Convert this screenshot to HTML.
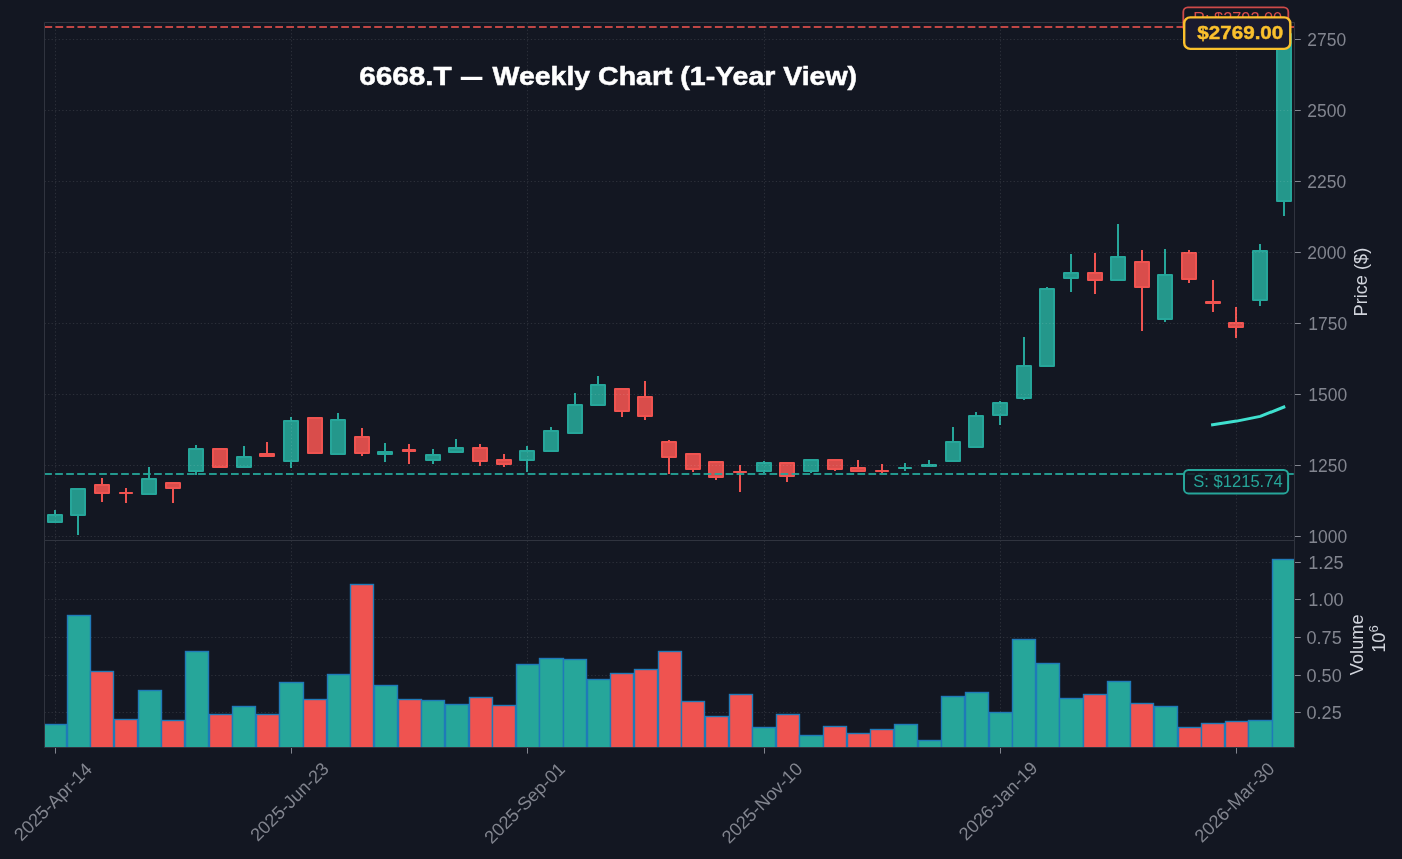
<!DOCTYPE html>
<html><head><meta charset="utf-8"><title>6668.T Weekly Chart</title>
<style>html,body{margin:0;padding:0;background:#131722;width:1402px;height:859px;overflow:hidden}svg{display:block;will-change:transform;font-family:"Liberation Sans",sans-serif}</style>
</head><body>
<svg width="1402" height="859" viewBox="0 0 1402 859">
<rect x="0" y="0" width="1402" height="859" fill="#131722"/>
<defs><clipPath id="cp"><rect x="44.5" y="22.5" width="1250.0" height="518.0"/></clipPath><clipPath id="cv"><rect x="44.5" y="540.5" width="1250.0" height="207.0"/></clipPath></defs>
<g clip-path="url(#cp)">
<path d="M55 510V522" stroke="#26a69a" stroke-width="2"/><path d="M48.0 515.0H62.0V522.0H48.0Z" fill="#24978b" stroke="#26a69a" stroke-width="2" stroke-linejoin="round"/>
<path d="M78 488V535" stroke="#26a69a" stroke-width="2"/><path d="M71.0 489.0H85.0V515.0H71.0Z" fill="#24978b" stroke="#26a69a" stroke-width="2" stroke-linejoin="round"/>
<path d="M102 478V502" stroke="#ef5350" stroke-width="2"/><path d="M95.0 485.0H109.0V493.0H95.0Z" fill="#d94d4b" stroke="#ef5350" stroke-width="2" stroke-linejoin="round"/>
<path d="M126 488V503" stroke="#ef5350" stroke-width="2"/><path d="M119.9 493.0H132.1V493.0H119.9Z" fill="#d94d4b" stroke="#ef5350" stroke-width="2" stroke-linejoin="round"/>
<path d="M149 467V495" stroke="#26a69a" stroke-width="2"/><path d="M142.0 479.0H156.0V494.0H142.0Z" fill="#24978b" stroke="#26a69a" stroke-width="2" stroke-linejoin="round"/>
<path d="M173 482V503" stroke="#ef5350" stroke-width="2"/><path d="M166.0 483.0H180.0V488.0H166.0Z" fill="#d94d4b" stroke="#ef5350" stroke-width="2" stroke-linejoin="round"/>
<path d="M196 445V475" stroke="#26a69a" stroke-width="2"/><path d="M189.0 449.0H203.0V471.0H189.0Z" fill="#24978b" stroke="#26a69a" stroke-width="2" stroke-linejoin="round"/>
<path d="M220 448V468" stroke="#ef5350" stroke-width="2"/><path d="M213.0 449.0H227.0V467.0H213.0Z" fill="#d94d4b" stroke="#ef5350" stroke-width="2" stroke-linejoin="round"/>
<path d="M244 446V468" stroke="#26a69a" stroke-width="2"/><path d="M237.0 457.0H251.0V467.0H237.0Z" fill="#24978b" stroke="#26a69a" stroke-width="2" stroke-linejoin="round"/>
<path d="M267 442V457" stroke="#ef5350" stroke-width="2"/><path d="M260.0 454.0H274.0V456.0H260.0Z" fill="#d94d4b" stroke="#ef5350" stroke-width="2" stroke-linejoin="round"/>
<path d="M291 417V468" stroke="#26a69a" stroke-width="2"/><path d="M284.0 421.0H298.0V461.0H284.0Z" fill="#24978b" stroke="#26a69a" stroke-width="2" stroke-linejoin="round"/>
<path d="M315 417V454" stroke="#ef5350" stroke-width="2"/><path d="M308.0 418.0H322.0V453.0H308.0Z" fill="#d94d4b" stroke="#ef5350" stroke-width="2" stroke-linejoin="round"/>
<path d="M338 413V455" stroke="#26a69a" stroke-width="2"/><path d="M331.0 420.0H345.0V454.0H331.0Z" fill="#24978b" stroke="#26a69a" stroke-width="2" stroke-linejoin="round"/>
<path d="M362 428V456" stroke="#ef5350" stroke-width="2"/><path d="M355.0 437.0H369.0V453.0H355.0Z" fill="#d94d4b" stroke="#ef5350" stroke-width="2" stroke-linejoin="round"/>
<path d="M385 443V462" stroke="#26a69a" stroke-width="2"/><path d="M378.0 452.0H392.0V454.0H378.0Z" fill="#24978b" stroke="#26a69a" stroke-width="2" stroke-linejoin="round"/>
<path d="M409 444V464" stroke="#ef5350" stroke-width="2"/><path d="M402.9 450.0H415.1V451.0H402.9Z" fill="#d94d4b" stroke="#ef5350" stroke-width="2" stroke-linejoin="round"/>
<path d="M433 449V464" stroke="#26a69a" stroke-width="2"/><path d="M426.0 455.0H440.0V460.0H426.0Z" fill="#24978b" stroke="#26a69a" stroke-width="2" stroke-linejoin="round"/>
<path d="M456 439V453" stroke="#26a69a" stroke-width="2"/><path d="M449.0 448.0H463.0V452.0H449.0Z" fill="#24978b" stroke="#26a69a" stroke-width="2" stroke-linejoin="round"/>
<path d="M480 444V466" stroke="#ef5350" stroke-width="2"/><path d="M473.0 448.0H487.0V461.0H473.0Z" fill="#d94d4b" stroke="#ef5350" stroke-width="2" stroke-linejoin="round"/>
<path d="M504 454V467" stroke="#ef5350" stroke-width="2"/><path d="M497.0 460.0H511.0V464.0H497.0Z" fill="#d94d4b" stroke="#ef5350" stroke-width="2" stroke-linejoin="round"/>
<path d="M527 446V472" stroke="#26a69a" stroke-width="2"/><path d="M520.0 451.0H534.0V460.0H520.0Z" fill="#24978b" stroke="#26a69a" stroke-width="2" stroke-linejoin="round"/>
<path d="M551 427V452" stroke="#26a69a" stroke-width="2"/><path d="M544.0 431.0H558.0V451.0H544.0Z" fill="#24978b" stroke="#26a69a" stroke-width="2" stroke-linejoin="round"/>
<path d="M575 393V434" stroke="#26a69a" stroke-width="2"/><path d="M568.0 405.0H582.0V433.0H568.0Z" fill="#24978b" stroke="#26a69a" stroke-width="2" stroke-linejoin="round"/>
<path d="M598 376V406" stroke="#26a69a" stroke-width="2"/><path d="M591.0 385.0H605.0V405.0H591.0Z" fill="#24978b" stroke="#26a69a" stroke-width="2" stroke-linejoin="round"/>
<path d="M622 388V417" stroke="#ef5350" stroke-width="2"/><path d="M615.0 389.0H629.0V411.0H615.0Z" fill="#d94d4b" stroke="#ef5350" stroke-width="2" stroke-linejoin="round"/>
<path d="M645 381V420" stroke="#ef5350" stroke-width="2"/><path d="M638.0 397.0H652.0V416.0H638.0Z" fill="#d94d4b" stroke="#ef5350" stroke-width="2" stroke-linejoin="round"/>
<path d="M669 440V474" stroke="#ef5350" stroke-width="2"/><path d="M662.0 442.0H676.0V457.0H662.0Z" fill="#d94d4b" stroke="#ef5350" stroke-width="2" stroke-linejoin="round"/>
<path d="M693 453V472" stroke="#ef5350" stroke-width="2"/><path d="M686.0 454.0H700.0V469.0H686.0Z" fill="#d94d4b" stroke="#ef5350" stroke-width="2" stroke-linejoin="round"/>
<path d="M716 461V480" stroke="#ef5350" stroke-width="2"/><path d="M709.0 462.0H723.0V477.0H709.0Z" fill="#d94d4b" stroke="#ef5350" stroke-width="2" stroke-linejoin="round"/>
<path d="M740 465V492" stroke="#ef5350" stroke-width="2"/><path d="M733.9 472.0H746.1V472.0H733.9Z" fill="#d94d4b" stroke="#ef5350" stroke-width="2" stroke-linejoin="round"/>
<path d="M764 461V473" stroke="#26a69a" stroke-width="2"/><path d="M757.0 463.0H771.0V471.0H757.0Z" fill="#24978b" stroke="#26a69a" stroke-width="2" stroke-linejoin="round"/>
<path d="M787 462V482" stroke="#ef5350" stroke-width="2"/><path d="M780.0 463.0H794.0V476.0H780.0Z" fill="#d94d4b" stroke="#ef5350" stroke-width="2" stroke-linejoin="round"/>
<path d="M811 459V473" stroke="#26a69a" stroke-width="2"/><path d="M804.0 460.0H818.0V471.0H804.0Z" fill="#24978b" stroke="#26a69a" stroke-width="2" stroke-linejoin="round"/>
<path d="M835 459V471" stroke="#ef5350" stroke-width="2"/><path d="M828.0 460.0H842.0V469.0H828.0Z" fill="#d94d4b" stroke="#ef5350" stroke-width="2" stroke-linejoin="round"/>
<path d="M858 460V472" stroke="#ef5350" stroke-width="2"/><path d="M851.0 468.0H865.0V471.0H851.0Z" fill="#d94d4b" stroke="#ef5350" stroke-width="2" stroke-linejoin="round"/>
<path d="M882 464V473" stroke="#ef5350" stroke-width="2"/><path d="M875.9 471.0H888.1V471.0H875.9Z" fill="#d94d4b" stroke="#ef5350" stroke-width="2" stroke-linejoin="round"/>
<path d="M905 463V471" stroke="#26a69a" stroke-width="2"/><path d="M898.9 468.0H911.1V468.0H898.9Z" fill="#24978b" stroke="#26a69a" stroke-width="2" stroke-linejoin="round"/>
<path d="M929 460V467" stroke="#26a69a" stroke-width="2"/><path d="M922.0 465.0H936.0V466.0H922.0Z" fill="#24978b" stroke="#26a69a" stroke-width="2" stroke-linejoin="round"/>
<path d="M953 427V462" stroke="#26a69a" stroke-width="2"/><path d="M946.0 442.0H960.0V461.0H946.0Z" fill="#24978b" stroke="#26a69a" stroke-width="2" stroke-linejoin="round"/>
<path d="M976 412V448" stroke="#26a69a" stroke-width="2"/><path d="M969.0 416.0H983.0V447.0H969.0Z" fill="#24978b" stroke="#26a69a" stroke-width="2" stroke-linejoin="round"/>
<path d="M1000 401V425" stroke="#26a69a" stroke-width="2"/><path d="M993.0 403.0H1007.0V415.0H993.0Z" fill="#24978b" stroke="#26a69a" stroke-width="2" stroke-linejoin="round"/>
<path d="M1024 337V400" stroke="#26a69a" stroke-width="2"/><path d="M1017.0 366.0H1031.0V398.0H1017.0Z" fill="#24978b" stroke="#26a69a" stroke-width="2" stroke-linejoin="round"/>
<path d="M1047 287V367" stroke="#26a69a" stroke-width="2"/><path d="M1040.0 289.0H1054.0V366.0H1040.0Z" fill="#24978b" stroke="#26a69a" stroke-width="2" stroke-linejoin="round"/>
<path d="M1071 254V292" stroke="#26a69a" stroke-width="2"/><path d="M1064.0 273.0H1078.0V278.0H1064.0Z" fill="#24978b" stroke="#26a69a" stroke-width="2" stroke-linejoin="round"/>
<path d="M1095 253V294" stroke="#ef5350" stroke-width="2"/><path d="M1088.0 273.0H1102.0V280.0H1088.0Z" fill="#d94d4b" stroke="#ef5350" stroke-width="2" stroke-linejoin="round"/>
<path d="M1118 224V281" stroke="#26a69a" stroke-width="2"/><path d="M1111.0 257.0H1125.0V280.0H1111.0Z" fill="#24978b" stroke="#26a69a" stroke-width="2" stroke-linejoin="round"/>
<path d="M1142 250V331" stroke="#ef5350" stroke-width="2"/><path d="M1135.0 262.0H1149.0V287.0H1135.0Z" fill="#d94d4b" stroke="#ef5350" stroke-width="2" stroke-linejoin="round"/>
<path d="M1165 249V322" stroke="#26a69a" stroke-width="2"/><path d="M1158.0 275.0H1172.0V319.0H1158.0Z" fill="#24978b" stroke="#26a69a" stroke-width="2" stroke-linejoin="round"/>
<path d="M1189 250V283" stroke="#ef5350" stroke-width="2"/><path d="M1182.0 253.0H1196.0V279.0H1182.0Z" fill="#d94d4b" stroke="#ef5350" stroke-width="2" stroke-linejoin="round"/>
<path d="M1213 280V312" stroke="#ef5350" stroke-width="2"/><path d="M1206.0 302.0H1220.0V303.0H1206.0Z" fill="#d94d4b" stroke="#ef5350" stroke-width="2" stroke-linejoin="round"/>
<path d="M1236 307V338" stroke="#ef5350" stroke-width="2"/><path d="M1229.0 323.0H1243.0V327.0H1229.0Z" fill="#d94d4b" stroke="#ef5350" stroke-width="2" stroke-linejoin="round"/>
<path d="M1260 244V306" stroke="#26a69a" stroke-width="2"/><path d="M1253.0 251.0H1267.0V300.0H1253.0Z" fill="#24978b" stroke="#26a69a" stroke-width="2" stroke-linejoin="round"/>
<path d="M1284 28V216" stroke="#26a69a" stroke-width="2"/><path d="M1277.0 34.0H1291.0V201.0H1277.0Z" fill="#24978b" stroke="#26a69a" stroke-width="2" stroke-linejoin="round"/>
<path d="M44.5 536.5H1294.5M44.5 465.5H1294.5M44.5 394.5H1294.5M44.5 323.5H1294.5M44.5 252.5H1294.5M44.5 181.5H1294.5M44.5 110.5H1294.5M44.5 39.5H1294.5M55.5 22.5V540.5M291.5 22.5V540.5M527.5 22.5V540.5M764.5 22.5V540.5M1000.5 22.5V540.5M1236.5 22.5V540.5" stroke="#ffffff" stroke-opacity="0.11" stroke-width="1" stroke-dasharray="1.3 2.25" fill="none"/>
<path d="M44.5 27H1294.5" stroke="#ef5350" stroke-opacity="0.78" stroke-width="2.08" stroke-dasharray="7.69 3.3" fill="none"/>
<path d="M44.2 474H1294.5" stroke="#26a69a" stroke-opacity="0.9" stroke-width="2.08" stroke-dasharray="7.69 3.3" fill="none"/>
<path d="M1211.1 425.1 L1236.6 421.1 L1260.2 416.4 L1285.2 406.5" stroke="#3fe0cf" stroke-width="3.0" fill="none" stroke-linejoin="round"/>
</g>
<path d="M44.5 712.5H1294.5M44.5 675.5H1294.5M44.5 637.5H1294.5M44.5 599.5H1294.5M44.5 562.5H1294.5M55.5 540.5V747.5M291.5 540.5V747.5M527.5 540.5V747.5M764.5 540.5V747.5M1000.5 540.5V747.5M1236.5 540.5V747.5" stroke="#ffffff" stroke-opacity="0.11" stroke-width="1" stroke-dasharray="1.3 2.25" fill="none"/>
<g clip-path="url(#cv)"><rect x="43.5" y="724.5" width="23.0" height="35.5" fill="#26a69a" stroke="#1f7ab8" stroke-width="1.39"/><rect x="67.5" y="615.5" width="23.0" height="144.5" fill="#26a69a" stroke="#1f7ab8" stroke-width="1.39"/><rect x="90.5" y="671.5" width="23.0" height="88.5" fill="#ef5350" stroke="#1f7ab8" stroke-width="1.39"/><rect x="114.5" y="719.5" width="23.0" height="40.5" fill="#ef5350" stroke="#1f7ab8" stroke-width="1.39"/><rect x="138.5" y="690.5" width="23.0" height="69.5" fill="#26a69a" stroke="#1f7ab8" stroke-width="1.39"/><rect x="161.5" y="720.5" width="23.0" height="39.5" fill="#ef5350" stroke="#1f7ab8" stroke-width="1.39"/><rect x="185.5" y="651.5" width="23.0" height="108.5" fill="#26a69a" stroke="#1f7ab8" stroke-width="1.39"/><rect x="209.5" y="714.5" width="23.0" height="45.5" fill="#ef5350" stroke="#1f7ab8" stroke-width="1.39"/><rect x="232.5" y="706.5" width="23.0" height="53.5" fill="#26a69a" stroke="#1f7ab8" stroke-width="1.39"/><rect x="256.5" y="714.5" width="23.0" height="45.5" fill="#ef5350" stroke="#1f7ab8" stroke-width="1.39"/><rect x="279.5" y="682.5" width="24.0" height="77.5" fill="#26a69a" stroke="#1f7ab8" stroke-width="1.39"/><rect x="303.5" y="699.5" width="23.0" height="60.5" fill="#ef5350" stroke="#1f7ab8" stroke-width="1.39"/><rect x="327.5" y="674.5" width="23.0" height="85.5" fill="#26a69a" stroke="#1f7ab8" stroke-width="1.39"/><rect x="350.5" y="584.5" width="23.0" height="175.5" fill="#ef5350" stroke="#1f7ab8" stroke-width="1.39"/><rect x="374.5" y="685.5" width="23.0" height="74.5" fill="#26a69a" stroke="#1f7ab8" stroke-width="1.39"/><rect x="398.5" y="699.5" width="23.0" height="60.5" fill="#ef5350" stroke="#1f7ab8" stroke-width="1.39"/><rect x="421.5" y="700.5" width="23.0" height="59.5" fill="#26a69a" stroke="#1f7ab8" stroke-width="1.39"/><rect x="445.5" y="704.5" width="23.0" height="55.5" fill="#26a69a" stroke="#1f7ab8" stroke-width="1.39"/><rect x="469.5" y="697.5" width="23.0" height="62.5" fill="#ef5350" stroke="#1f7ab8" stroke-width="1.39"/><rect x="492.5" y="705.5" width="23.0" height="54.5" fill="#ef5350" stroke="#1f7ab8" stroke-width="1.39"/><rect x="516.5" y="664.5" width="23.0" height="95.5" fill="#26a69a" stroke="#1f7ab8" stroke-width="1.39"/><rect x="539.5" y="658.5" width="24.0" height="101.5" fill="#26a69a" stroke="#1f7ab8" stroke-width="1.39"/><rect x="563.5" y="659.5" width="23.0" height="100.5" fill="#26a69a" stroke="#1f7ab8" stroke-width="1.39"/><rect x="587.5" y="679.5" width="23.0" height="80.5" fill="#26a69a" stroke="#1f7ab8" stroke-width="1.39"/><rect x="610.5" y="673.5" width="23.0" height="86.5" fill="#ef5350" stroke="#1f7ab8" stroke-width="1.39"/><rect x="634.5" y="669.5" width="23.0" height="90.5" fill="#ef5350" stroke="#1f7ab8" stroke-width="1.39"/><rect x="658.5" y="651.5" width="23.0" height="108.5" fill="#ef5350" stroke="#1f7ab8" stroke-width="1.39"/><rect x="681.5" y="701.5" width="23.0" height="58.5" fill="#ef5350" stroke="#1f7ab8" stroke-width="1.39"/><rect x="705.5" y="716.5" width="23.0" height="43.5" fill="#ef5350" stroke="#1f7ab8" stroke-width="1.39"/><rect x="729.5" y="694.5" width="23.0" height="65.5" fill="#ef5350" stroke="#1f7ab8" stroke-width="1.39"/><rect x="752.5" y="727.5" width="23.0" height="32.5" fill="#26a69a" stroke="#1f7ab8" stroke-width="1.39"/><rect x="776.5" y="714.5" width="23.0" height="45.5" fill="#ef5350" stroke="#1f7ab8" stroke-width="1.39"/><rect x="799.5" y="735.5" width="24.0" height="24.5" fill="#26a69a" stroke="#1f7ab8" stroke-width="1.39"/><rect x="823.5" y="726.5" width="23.0" height="33.5" fill="#ef5350" stroke="#1f7ab8" stroke-width="1.39"/><rect x="847.5" y="733.5" width="23.0" height="26.5" fill="#ef5350" stroke="#1f7ab8" stroke-width="1.39"/><rect x="870.5" y="729.5" width="23.0" height="30.5" fill="#ef5350" stroke="#1f7ab8" stroke-width="1.39"/><rect x="894.5" y="724.5" width="23.0" height="35.5" fill="#26a69a" stroke="#1f7ab8" stroke-width="1.39"/><rect x="918.5" y="740.5" width="23.0" height="19.5" fill="#26a69a" stroke="#1f7ab8" stroke-width="1.39"/><rect x="941.5" y="696.5" width="23.0" height="63.5" fill="#26a69a" stroke="#1f7ab8" stroke-width="1.39"/><rect x="965.5" y="692.5" width="23.0" height="67.5" fill="#26a69a" stroke="#1f7ab8" stroke-width="1.39"/><rect x="989.5" y="712.5" width="23.0" height="47.5" fill="#26a69a" stroke="#1f7ab8" stroke-width="1.39"/><rect x="1012.5" y="639.5" width="23.0" height="120.5" fill="#26a69a" stroke="#1f7ab8" stroke-width="1.39"/><rect x="1036.5" y="663.5" width="23.0" height="96.5" fill="#26a69a" stroke="#1f7ab8" stroke-width="1.39"/><rect x="1059.5" y="698.5" width="24.0" height="61.5" fill="#26a69a" stroke="#1f7ab8" stroke-width="1.39"/><rect x="1083.5" y="694.5" width="23.0" height="65.5" fill="#ef5350" stroke="#1f7ab8" stroke-width="1.39"/><rect x="1107.5" y="681.5" width="23.0" height="78.5" fill="#26a69a" stroke="#1f7ab8" stroke-width="1.39"/><rect x="1130.5" y="703.5" width="23.0" height="56.5" fill="#ef5350" stroke="#1f7ab8" stroke-width="1.39"/><rect x="1154.5" y="706.5" width="23.0" height="53.5" fill="#26a69a" stroke="#1f7ab8" stroke-width="1.39"/><rect x="1178.5" y="727.5" width="23.0" height="32.5" fill="#ef5350" stroke="#1f7ab8" stroke-width="1.39"/><rect x="1201.5" y="723.5" width="23.0" height="36.5" fill="#ef5350" stroke="#1f7ab8" stroke-width="1.39"/><rect x="1225.5" y="721.5" width="23.0" height="38.5" fill="#ef5350" stroke="#1f7ab8" stroke-width="1.39"/><rect x="1248.5" y="720.5" width="24.0" height="39.5" fill="#26a69a" stroke="#1f7ab8" stroke-width="1.39"/><rect x="1272.5" y="559.5" width="23.0" height="200.5" fill="#26a69a" stroke="#1f7ab8" stroke-width="1.39"/></g>
<path d="M44.5 22.5H1294.5V540.5H44.5Z M44.5 747.5H1294.5 M44.5 540.5H1294.5 M44.5 540.5V747.5 M1294.5 540.5V747.5" stroke="#30343f" stroke-width="1" fill="none"/>
<path d="M1295.0 536.5H1300.8M1295.0 465.5H1300.8M1295.0 394.5H1300.8M1295.0 323.5H1300.8M1295.0 252.5H1300.8M1295.0 181.5H1300.8M1295.0 110.5H1300.8M1295.0 39.5H1300.8M1295.0 712.5H1300.8M1295.0 675.5H1300.8M1295.0 637.5H1300.8M1295.0 599.5H1300.8M1295.0 562.5H1300.8M55.50 748.0V753.6M291.50 748.0V753.6M527.50 748.0V753.6M764.50 748.0V753.6M1000.50 748.0V753.6M1236.50 748.0V753.6" stroke="#82858f" stroke-width="1" fill="none"/>
<text x="1308.3" y="543.30" font-size="18.2" fill="#82858f" textLength="38.8" lengthAdjust="spacingAndGlyphs">1000</text><text x="1308.3" y="472.31" font-size="18.2" fill="#82858f" textLength="38.8" lengthAdjust="spacingAndGlyphs">1250</text><text x="1308.3" y="401.33" font-size="18.2" fill="#82858f" textLength="38.8" lengthAdjust="spacingAndGlyphs">1500</text><text x="1308.3" y="330.34" font-size="18.2" fill="#82858f" textLength="38.8" lengthAdjust="spacingAndGlyphs">1750</text><text x="1307.3" y="259.36" font-size="18.2" fill="#82858f" textLength="38.8" lengthAdjust="spacingAndGlyphs">2000</text><text x="1307.3" y="188.37" font-size="18.2" fill="#82858f" textLength="38.8" lengthAdjust="spacingAndGlyphs">2250</text><text x="1307.3" y="117.39" font-size="18.2" fill="#82858f" textLength="38.8" lengthAdjust="spacingAndGlyphs">2500</text><text x="1307.3" y="46.40" font-size="18.2" fill="#82858f" textLength="38.8" lengthAdjust="spacingAndGlyphs">2750</text>
<text x="1306.5" y="719.40" font-size="18.2" fill="#82858f" textLength="35.2" lengthAdjust="spacingAndGlyphs">0.25</text><text x="1306.5" y="682.40" font-size="18.2" fill="#82858f" textLength="35.2" lengthAdjust="spacingAndGlyphs">0.50</text><text x="1306.5" y="644.40" font-size="18.2" fill="#82858f" textLength="35.2" lengthAdjust="spacingAndGlyphs">0.75</text><text x="1308.3" y="606.40" font-size="18.2" fill="#82858f" textLength="35.2" lengthAdjust="spacingAndGlyphs">1.00</text><text x="1308.3" y="569.40" font-size="18.2" fill="#82858f" textLength="35.2" lengthAdjust="spacingAndGlyphs">1.25</text>
<text x="52.70" y="808.20" font-size="18.2" fill="#82858f" text-anchor="middle" transform="rotate(-45 52.70 801.70)">2025-Apr-14</text>
<text x="289.30" y="808.10" font-size="18.2" fill="#82858f" text-anchor="middle" transform="rotate(-45 289.30 801.60)">2025-Jun-23</text>
<text x="524.45" y="809.40" font-size="18.2" fill="#82858f" text-anchor="middle" transform="rotate(-45 524.45 802.90)">2025-Sep-01</text>
<text x="761.85" y="809.20" font-size="18.2" fill="#82858f" text-anchor="middle" transform="rotate(-45 761.85 802.70)">2025-Nov-10</text>
<text x="997.85" y="807.25" font-size="18.2" fill="#82858f" text-anchor="middle" transform="rotate(-45 997.85 800.75)">2026-Jan-19</text>
<text x="1234.25" y="808.70" font-size="18.2" fill="#82858f" text-anchor="middle" transform="rotate(-45 1234.25 802.20)">2026-Mar-30</text>
<text x="0" y="0" font-size="18.2" fill="#d1d4dc" text-anchor="middle" transform="translate(1367 282.1) rotate(-90)">Price ($)</text>
<text x="0" y="0" font-size="18.2" fill="#d1d4dc" text-anchor="middle" transform="translate(1363.2 644.8) rotate(-90)">Volume</text>
<text x="0" y="0" font-size="18.2" fill="#d1d4dc" text-anchor="middle" transform="translate(1385.2 639.1) rotate(-90)">10<tspan font-size="13" dy="-7.5">6</tspan></text>
<g fill="#ffffff" stroke="#ffffff" stroke-width="0.5" font-size="25" font-weight="bold"><text x="359.2" y="85.2" textLength="92.6" lengthAdjust="spacingAndGlyphs">6668.T</text><rect x="460.75" y="76.8" width="21.65" height="3.2" stroke="none"/><text x="492.6" y="85.2" textLength="364.5" lengthAdjust="spacingAndGlyphs">Weekly Chart (1-Year View)</text></g>
<rect x="1183.3" y="7.4" width="105" height="24" rx="4.5" fill="#131722" fill-opacity="0.85" stroke="#ef5350" stroke-opacity="0.85" stroke-width="1.8"/><text x="1193.2" y="24.2" font-size="17" fill="#ef5350" fill-opacity="0.9" textLength="89" lengthAdjust="spacingAndGlyphs">R: $2792.00</text>
<rect x="1184" y="469.9" width="104.1" height="23.5" rx="4.5" fill="#131722" fill-opacity="0.85" stroke="#26a69a" stroke-width="2"/><text x="1193.2" y="487" font-size="17" fill="#26a69a" textLength="89.5" lengthAdjust="spacingAndGlyphs">S: $1215.74</text>
<rect x="1184.2" y="17.4" width="106.1" height="31.5" rx="6" fill="#1a1a2e" stroke="#fbc02d" stroke-width="2.4"/><text x="1197.3" y="38.9" font-size="17.5" font-weight="bold" fill="#fbc02d" stroke="#fbc02d" stroke-width="0.4" textLength="86" lengthAdjust="spacingAndGlyphs">$2769.00</text>
</svg>
</body></html>
